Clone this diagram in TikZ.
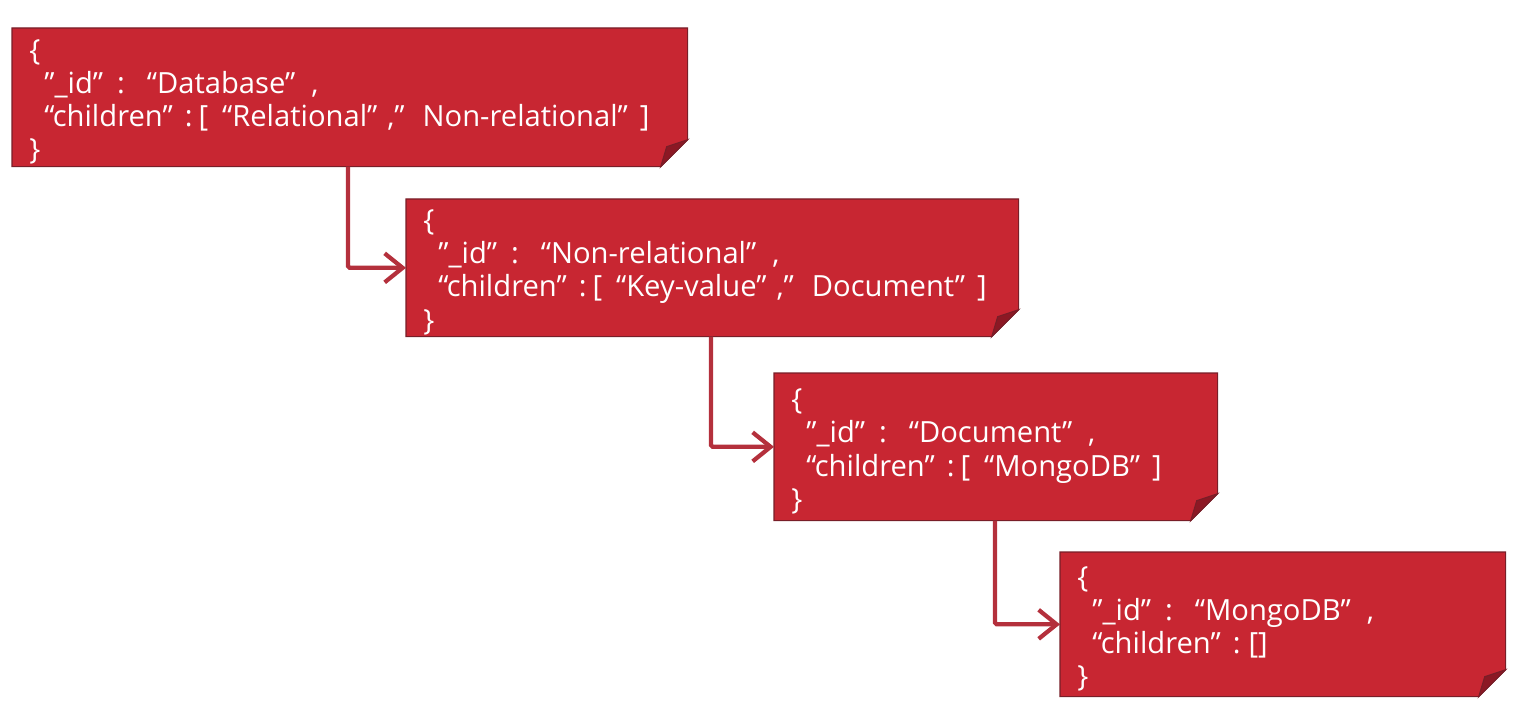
\documentclass[tikz,border=0pt]{standalone}
\usepackage{fontspec}
\setmainfont{Open Sans}
\usetikzlibrary{arrows.meta}
\pgfdeclarelayer{background}
\pgfsetlayers{background,main}
\definecolor{notered}{RGB}{200,38,50}
\definecolor{noteedge}{RGB}{120,30,40}
\definecolor{flapred}{RGB}{140,24,36}
\definecolor{linkred}{RGB}{180,48,60}
\newlength\px
\setlength\px{0.02cm}
\newcommand\gp[1]{\hspace{#1\px}}
\newcommand\topstrut{\rule{0pt}{17pt}}
\tikzset{
  note/.style={anchor=north west, inner xsep=0.34cm, inner ysep=0pt, align=left,
    text=white, font=\fontsize{16.6}{18.8}\selectfont},
  conn/.style={draw=linkred, line width=2.4pt, rounded corners=1pt,
    -{Straight Barb[length=0.36cm, width=0.58cm, line width=2.4pt]}},
}
\newcommand\foldnote[1]{%
  \begin{pgfonlayer}{background}
  \filldraw[fill=notered, draw=noteedge, line width=0.6pt]
    (#1.north west) -- (#1.north east) -- ([yshift=0.54cm]#1.south east)
    -- ([xshift=-0.54cm]#1.south east) -- (#1.south west) -- cycle;
  \filldraw[fill=flapred, draw=noteedge, line width=0.6pt]
    ([yshift=0.54cm]#1.south east) -- ([xshift=-0.54cm]#1.south east)
    -- ([xshift=-0.42cm,yshift=0.40cm]#1.south east) -- cycle;
  \end{pgfonlayer}}
\begin{document}
\begin{tikzpicture}
\useasboundingbox (0,0) rectangle (30.36,-14.18);
\node[note, text width=12.82cm, minimum height=2.76cm] (b1) at (0.24,-0.56)
  {\topstrut\{\\
   \gp{15}”\_id”\gp{14}:\gp{22}“Database”\gp{16},\\
   \gp{15}“children”\gp{12}:\gp{6}[\gp{14}“Relational”\gp{10},”\gp{18}Non-relational”\gp{12}]\\
   \}};
\node[note, text width=11.56cm, minimum height=2.74cm] (b2) at (8.12,-3.98)
  {\topstrut\{\\
   \gp{15}”\_id”\gp{14}:\gp{22}“Non-relational”\gp{16},\\
   \gp{15}“children”\gp{12}:\gp{6}[\gp{14}“Key-value”\gp{10},”\gp{18}Document”\gp{12}]\\
   \}};
\node[note, text width=8.18cm, minimum height=2.94cm] (b3) at (15.48,-7.46)
  {\topstrut\{\\
   \gp{15}”\_id”\gp{14}:\gp{22}“Document”\gp{16},\\
   \gp{15}“children”\gp{12}:\gp{6}[\gp{14}“MongoDB”\gp{12}]\\
   \}};
\node[note, text width=8.22cm, minimum height=2.88cm] (b4) at (21.2,-11.04)
  {\topstrut\{\\
   \gp{15}”\_id”\gp{14}:\gp{22}“MongoDB”\gp{16},\\
   \gp{15}“children”\gp{12}:\gp{8}[]\\
   \}};
\foldnote{b1}\foldnote{b2}\foldnote{b3}\foldnote{b4}
\draw[conn] ([xshift=6.72cm]b1.south west) |- (b2.west);
\draw[conn] ([xshift=6.10cm]b2.south west) |- (b3.west);
\draw[conn] ([xshift=4.42cm]b3.south west) |- (b4.west);
\end{tikzpicture}
\end{document}
